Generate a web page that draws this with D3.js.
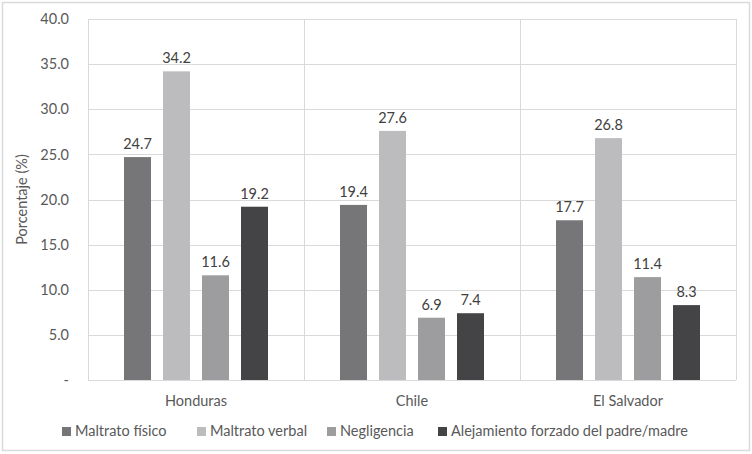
<!DOCTYPE html>
<html><head><meta charset="utf-8">
<script src="https://cdn.jsdelivr.net/npm/d3@7/dist/d3.min.js"></script>
<style>body{margin:0;background:#fff;} svg{display:block;} text{font-family:Lato,"Open Sans",sans-serif;}</style>
</head><body>
<svg id="c" width="752" height="454"></svg>
<script>
const categories = ["Honduras", "Chile", "El Salvador"];
const series = ["Maltrato físico", "Maltrato verbal", "Negligencia", "Alejamiento forzado del padre/madre"];
const maltratoFisico = [24.7, 19.4, 17.7];
const maltratoVerbal = [34.2, 27.6, 26.8];
const negligencia = [11.6, 6.9, 11.4];
const alejamiento = [19.2, 7.4, 8.3];
const yTicks = [0, 5, 10, 15, 20, 25, 30, 35, 40];
const yTickLabels = ["-", "5.0", "10.0", "15.0", "20.0", "25.0", "30.0", "35.0", "40.0"];
const colors = ["#767679", "#bcbcbe", "#9d9da0", "#444446"];

const values = [maltratoFisico, maltratoVerbal, negligencia, alejamiento];
const svg = d3.select("#c");
const m = {l: 88, r: 736, t: 19, b: 380};
const fs = "14.5px";

svg.append("rect").attr("x", 2.5).attr("y", 2.5).attr("width", 747).attr("height", 448)
  .attr("fill", "#fff").attr("stroke", "#d9d9d9").attr("stroke-width", 1.5);

const x0 = d3.scaleBand().domain(categories).range([m.l, m.r]).padding(0);
const x1 = d3.scaleBand().domain(series).range([36, 180]).paddingInner(0.308).paddingOuter(0);
const y = d3.scaleLinear().domain([0, 40]).range([m.b, m.t]);

// horizontal gridlines
svg.append("g").selectAll("line").data(yTicks).join("line")
  .attr("x1", m.l).attr("x2", m.r)
  .attr("y1", d => Math.round(y(d)) + 0.5).attr("y2", d => Math.round(y(d)) + 0.5)
  .attr("stroke", "#d9d9d9").attr("stroke-width", 1);
// vertical dividers
const divs = categories.map(c => x0(c)).concat([m.r]);
svg.append("g").selectAll("line").data(divs).join("line")
  .attr("x1", d => Math.round(d) + 0.5).attr("x2", d => Math.round(d) + 0.5)
  .attr("y1", m.t).attr("y2", m.b)
  .attr("stroke", "#d9d9d9").attr("stroke-width", 1);

// y axis
const yAxis = d3.axisLeft(y).tickValues(yTicks).tickFormat((d, i) => yTickLabels[i]).tickSize(0).tickPadding(19);
const ga = svg.append("g").attr("transform", `translate(${m.l},0)`).call(yAxis);
ga.select(".domain").remove();
ga.selectAll("text").attr("fill", "#595959").style("font-size", fs).style("font-family", "Lato,sans-serif");

// bars
const groups = svg.append("g").selectAll("g").data(categories).join("g")
  .attr("transform", c => `translate(${x0(c)},0)`);
groups.selectAll("rect").data((c, ci) => series.map((s, si) => ({s, si, v: values[si][ci]})))
  .join("rect")
  .attr("x", d => x1(d.s)).attr("width", x1.bandwidth())
  .attr("y", d => y(d.v)).attr("height", d => y(0) - y(d.v))
  .attr("fill", d => colors[d.si]);
groups.selectAll("text").data((c, ci) => series.map((s, si) => ({s, si, v: values[si][ci]})))
  .join("text")
  .attr("x", d => x1(d.s) + x1.bandwidth() / 2).attr("y", d => y(d.v) - 8)
  .attr("text-anchor", "middle").attr("fill", "#404040").style("font-size", fs)
  .text(d => d.v.toFixed(1));

// category labels
svg.append("g").selectAll("text").data(categories).join("text")
  .attr("x", c => x0(c) + x0.bandwidth() / 2).attr("y", 406)
  .attr("text-anchor", "middle").attr("fill", "#595959").style("font-size", fs)
  .text(c => c);

// y title
svg.append("text").attr("transform", `translate(27,${(m.t + m.b) / 2}) rotate(-90)`)
  .attr("text-anchor", "middle").attr("fill", "#595959").style("font-size", fs)
  .text("Porcentaje (%)");

// legend
const legX = [62, 197, 327, 438];
const leg = svg.append("g").selectAll("g").data(series).join("g")
  .attr("transform", (s, i) => `translate(${legX[i]},0)`);
leg.append("rect").attr("x", 0).attr("y", 427).attr("width", 9).attr("height", 9)
  .attr("fill", (s, i) => colors[i]);
leg.append("text").attr("x", 13).attr("y", 436).attr("fill", "#595959").style("font-size", fs)
  .text(s => s);
</script>
</body></html>
